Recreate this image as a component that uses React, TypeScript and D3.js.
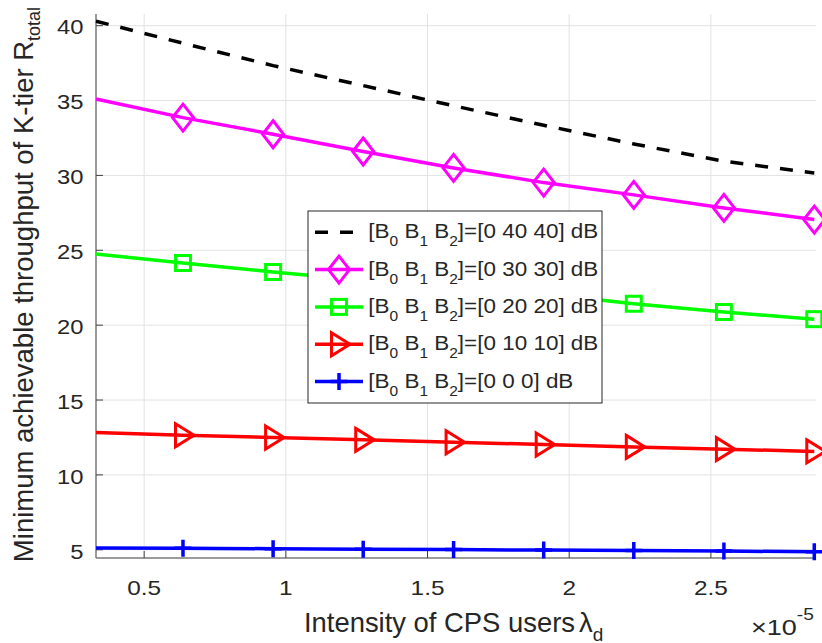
import React from 'react';
import * as d3 from 'd3';

const lambdaX = [0.33, 0.637, 0.955, 1.273, 1.592, 1.91, 2.228, 2.546, 2.865];
const r40 = [40.3, 38.83, 37.33, 36.0, 34.65, 33.35, 32.1, 30.95, 30.16];
const r30 = [35.1, 33.86, 32.75, 31.6, 30.5, 29.52, 28.7, 27.83, 27.05];
const r20 = [24.75, 24.15, 23.55, 23.0, 22.55, 22.1, 21.43, 20.88, 20.4];
const r10 = [12.83, 12.65, 12.5, 12.34, 12.18, 12.03, 11.87, 11.72, 11.57];
const r0 = [5.12, 5.1, 5.07, 5.04, 5.01, 4.98, 4.95, 4.91, 4.87];
const xTicks = [0.5, 1, 1.5, 2, 2.5];
const xTickLabels = ['0.5', '1', '1.5', '2', '2.5'];
const yTicks = [5, 10, 15, 20, 25, 30, 35, 40];
const legendValues = ['0 40 40', '0 30 30', '0 20 20', '0 10 10', '0 0 0'];

const FONT = '"Liberation Sans", Arial, Helvetica, sans-serif';
const TXT = '#262626';

type Marker = 'none' | 'diamond' | 'square' | 'triangle' | 'plus';
const series: { values: number[]; color: string; dash?: string; marker: Marker }[] = [
  { values: r40, color: '#000000', dash: '13 12', marker: 'none' },
  { values: r30, color: '#ff00ff', marker: 'diamond' },
  { values: r20, color: '#00ff00', marker: 'square' },
  { values: r10, color: '#ff0000', marker: 'triangle' },
  { values: r0, color: '#0000ff', marker: 'plus' },
];

const L = 96, R = 816, T = 14, B = 558;
const x = d3.scaleLinear().domain([0.33, 2.871]).range([L, R]);
const y = d3.scaleLinear().domain([4.45, 40.78]).range([B, T]);

function MarkerShape({ type, cx, cy, color }: { type: Marker; cx: number; cy: number; color: string }) {
  const sw = 3;
  if (type === 'diamond') {
    const w = 10.5, h = 13.5;
    return <path d={`M${cx},${cy - h}L${cx + w},${cy}L${cx},${cy + h}L${cx - w},${cy}Z`} fill="none" stroke={color} strokeWidth={sw} />;
  }
  if (type === 'square') {
    const s = 7.5;
    return <rect x={cx - s} y={cy - s} width={2 * s} height={2 * s} fill="none" stroke={color} strokeWidth={sw} />;
  }
  if (type === 'triangle') {
    return <path d={`M${cx - 7.5},${cy - 11.5}L${cx + 11},${cy}L${cx - 7.5},${cy + 11.5}Z`} fill="none" stroke={color} strokeWidth={sw} strokeLinejoin="miter" />;
  }
  if (type === 'plus') {
    const s = 8.5;
    return <path d={`M${cx - s},${cy}L${cx + s},${cy}M${cx},${cy - s}L${cx},${cy + s}`} fill="none" stroke={color} strokeWidth={3.5} />;
  }
  return null;
}

export default function App() {
  const line = d3.line<number>().x((_, i) => x(lambdaX[i])).y((d) => y(d));
  const legX = 308, legY = 211, legW = 294, legH = 192;
  const rowY = (i: number) => 232.3 + i * 37.3;
  return (
    <svg width={822} height={643} style={{ position: 'absolute', left: 0, top: 0, background: '#fff' }} fontFamily={FONT}>
      <rect x={0} y={0} width={822} height={643} fill="#fff" />
      {xTicks.map((t) => (
        <line key={'gx' + t} x1={x(t)} x2={x(t)} y1={T} y2={B} stroke="#e3e3e3" strokeWidth={1} />
      ))}
      {yTicks.map((t) => (
        <line key={'gy' + t} x1={L} x2={R} y1={y(t)} y2={y(t)} stroke="#e3e3e3" strokeWidth={1} />
      ))}
      <line x1={L} x2={L} y1={T} y2={B} stroke="#7a7a7a" strokeWidth={1.5} />
      <line x1={L} x2={R} y1={B} y2={B} stroke="#7a7a7a" strokeWidth={1.5} />
      {xTicks.map((t) => (
        <line key={'tx' + t} x1={x(t)} x2={x(t)} y1={B} y2={B - 7} stroke="#404040" strokeWidth={1} />
      ))}
      {yTicks.map((t) => (
        <line key={'ty' + t} x1={L} x2={L + 7} y1={y(t)} y2={y(t)} stroke="#404040" strokeWidth={1} />
      ))}
      {xTicks.map((t, i) => (
        <text key={'lx' + t} transform={`translate(${x(t)},595) scale(1.16,1)`} textAnchor="middle" fontSize={21} fill={TXT}>
          {xTickLabels[i]}
        </text>
      ))}
      {yTicks.map((t) => (
        <text key={'ly' + t} transform={`translate(83.5,${y(t) + 8.8}) scale(1.16,1)`} textAnchor="end" fontSize={20.5} fill={TXT}>
          {t}
        </text>
      ))}
      {series.map((s, si) => (
        <g key={'s' + si}>
          <path d={line(s.values) || ''} fill="none" stroke={s.color} strokeWidth={3.5} strokeDasharray={s.dash} />
          {s.marker !== 'none' &&
            s.values.map((v, i) =>
              i === 0 ? null : <MarkerShape key={i} type={s.marker} cx={x(lambdaX[i])} cy={y(v)} color={s.color} />
            )}
        </g>
      ))}
      <rect x={legX} y={legY} width={legW} height={legH} fill="#fff" stroke="#262626" strokeWidth={1} />
      {series.map((s, i) => (
        <g key={'lg' + i}>
          <line x1={315} x2={363} y1={rowY(i)} y2={rowY(i)} stroke={s.color} strokeWidth={3.5} strokeDasharray={s.dash} />
          {s.marker !== 'none' && <MarkerShape type={s.marker} cx={339} cy={rowY(i)} color={s.color} />}
          <text transform={`translate(368.3,${rowY(i) + 6}) scale(1.07,1)`} fontSize={21} fill={TXT}>
            [B<tspan fontSize={14.5} dy={8}>0</tspan>
            <tspan dy={-8}> B</tspan>
            <tspan fontSize={14.5} dy={8}>1</tspan>
            <tspan dy={-8}> B</tspan>
            <tspan fontSize={14.5} dy={8}>2</tspan>
            <tspan dy={-8}>]=[{legendValues[i]}] dB</tspan>
          </text>
        </g>
      ))}
      <text transform={`translate(33,284.5) rotate(-90)`} textAnchor="middle" fontSize={27.5} fill={TXT}>
        Minimum achievable throughput of K-tier R<tspan fontSize={18} dy={7}>total</tspan>
      </text>
      <text x={304} y={631.5} fontSize={27.4} fill={TXT}>
        Intensity of CPS users<tspan dx={4}>λ</tspan>
        <tspan fontSize={19} dy={9}>d</tspan>
      </text>
      <text transform={`translate(751,635) scale(1.2,1)`} fontSize={22.5} fill={TXT}>
        ×10<tspan fontSize={16} dy={-15}>-5</tspan>
      </text>
    </svg>
  );
}
